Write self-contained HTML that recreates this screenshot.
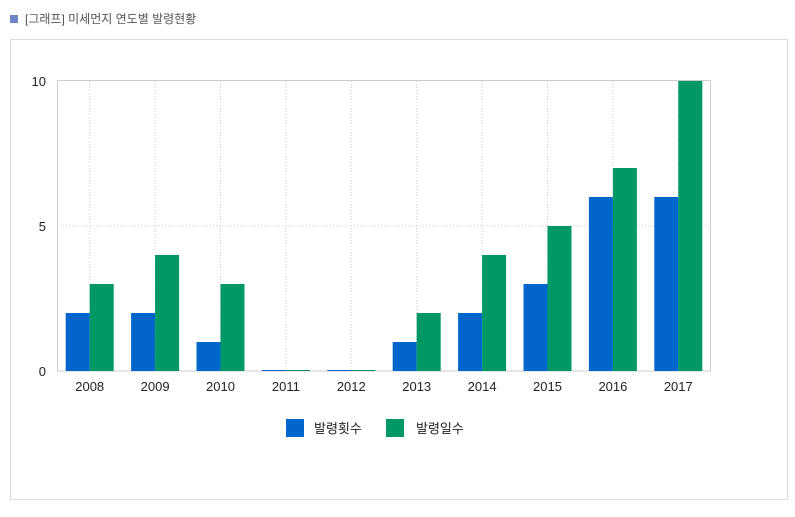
<!DOCTYPE html>
<html><head><meta charset="utf-8"><style>
body{margin:0;background:#fff;width:795px;height:512px;overflow:hidden;font-family:"Liberation Sans","Noto Sans CJK KR",sans-serif}
</style></head><body>
<svg width="795" height="512" xmlns="http://www.w3.org/2000/svg" font-family="Liberation Sans, Noto Sans CJK KR, sans-serif">
<rect x="10" y="15" width="8" height="8" fill="#6f86c6"/>
<text x="25" y="23" font-size="12" fill="#555">[그래프] 미세먼지 연도별 발령현황</text>
<rect x="10.5" y="39.5" width="777" height="460" fill="none" stroke="#ddd"/>
<g stroke="#ccc" stroke-dasharray="1,2">
<line x1="57" y1="226" x2="711" y2="226"/>
<line x1="89.7" y1="81" x2="89.7" y2="371"/><line x1="155.1" y1="81" x2="155.1" y2="371"/><line x1="220.5" y1="81" x2="220.5" y2="371"/><line x1="285.9" y1="81" x2="285.9" y2="371"/><line x1="351.3" y1="81" x2="351.3" y2="371"/><line x1="416.7" y1="81" x2="416.7" y2="371"/><line x1="482.1" y1="81" x2="482.1" y2="371"/><line x1="547.5" y1="81" x2="547.5" y2="371"/><line x1="612.9" y1="81" x2="612.9" y2="371"/><line x1="678.3" y1="81" x2="678.3" y2="371"/>
</g>
<rect x="57.5" y="80.5" width="653" height="290.5" fill="none" stroke="#ccc"/>
<g fill="#0066cc">
<rect x="65.7" y="313" width="24" height="58"/><rect x="131.1" y="313" width="24" height="58"/><rect x="196.5" y="342" width="24" height="29"/><rect x="261.9" y="370" width="24" height="1"/><rect x="327.3" y="370" width="24" height="1"/><rect x="392.7" y="342" width="24" height="29"/><rect x="458.1" y="313" width="24" height="58"/><rect x="523.5" y="284" width="24" height="87"/><rect x="588.9" y="197" width="24" height="174"/><rect x="654.3" y="197" width="24" height="174"/>
</g>
<g fill="#009966">
<rect x="89.7" y="284" width="24" height="87"/><rect x="155.1" y="255" width="24" height="116"/><rect x="220.5" y="284" width="24" height="87"/><rect x="285.9" y="370" width="24" height="1"/><rect x="351.3" y="370" width="24" height="1"/><rect x="416.7" y="313" width="24" height="58"/><rect x="482.1" y="255" width="24" height="116"/><rect x="547.5" y="226" width="24" height="145"/><rect x="612.9" y="168" width="24" height="203"/><rect x="678.3" y="81" width="24" height="290"/>
</g>
<g font-size="13" fill="#222" text-anchor="end">
<text x="46" y="86">10</text><text x="46" y="231">5</text><text x="46" y="376">0</text>
</g>
<g font-size="13" fill="#222" text-anchor="middle">
<text x="89.7" y="391">2008</text><text x="155.1" y="391">2009</text><text x="220.5" y="391">2010</text><text x="285.9" y="391">2011</text><text x="351.3" y="391">2012</text><text x="416.7" y="391">2013</text><text x="482.1" y="391">2014</text><text x="547.5" y="391">2015</text><text x="612.9" y="391">2016</text><text x="678.3" y="391">2017</text>
</g>
<rect x="286" y="419" width="18" height="18" fill="#0066cc"/>
<text x="314" y="433" font-size="13" fill="#222">발령횟수</text>
<rect x="386" y="419" width="18" height="18" fill="#009966"/>
<text x="416" y="433" font-size="13" fill="#222">발령일수</text>
</svg>
</body></html>
